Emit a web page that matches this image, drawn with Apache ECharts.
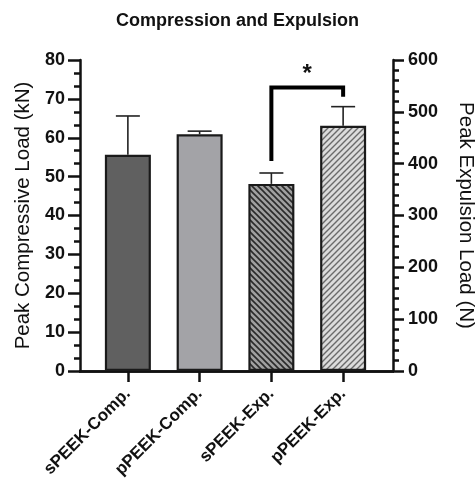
<!DOCTYPE html>
<html><head><meta charset="utf-8">
<script src="https://cdn.jsdelivr.net/npm/echarts@6/dist/echarts.min.js"></script>
<style>html,body{margin:0;padding:0;background:#fff}#c{width:475px;height:493px}</style>
</head><body><div id="c"></div>
<script>
// ---- data ----
const categories = ['sPEEK-Comp.', 'pPEEK-Comp.', 'sPEEK-Exp.', 'pPEEK-Exp.'];
const compressionMean = [55.6, 60.9, '-', '-'];      // kN (left axis)
const compressionErrTop = [65.6, 61.7, '-', '-'];
const expulsionMean = ['-', '-', 361, 473];          // N (right axis)
const expulsionErrTop = ['-', '-', 382, 510];
// significance bracket: [fromIndex, toIndex, leftEndValue, topValue, rightEndValue, starValue] (N)
const bracket = [[2, 3, 405, 547, 529, 572]];
const leftAxisRange = [0, 80, 10];
const rightAxisRange = [0, 600, 100];

// ---- patterns ----
function hatch(bg, fg, dir, s, w) {
  const c = document.createElement('canvas');
  c.width = s; c.height = s;
  const g = c.getContext('2d');
  g.fillStyle = bg; g.fillRect(0, 0, s, s);
  g.strokeStyle = fg; g.lineWidth = w;
  g.beginPath();
  if (dir === 'back') {
    g.moveTo(-2, -2); g.lineTo(s + 2, s + 2);
    g.moveTo(-2, s - 2); g.lineTo(2, s + 2);
    g.moveTo(s - 2, -2); g.lineTo(s + 2, 2);
  } else {
    g.moveTo(-2, s + 2); g.lineTo(s + 2, -2);
    g.moveTo(-2, 2); g.lineTo(2, -2);
    g.moveTo(s - 2, s + 2); g.lineTo(s + 2, s - 2);
  }
  g.stroke();
  return { image: c, repeat: 'repeat' };
}
const fills = ['#606060', '#a3a3a7', hatch('#a0a0a0', '#2a2a2a', 'back', 6, 1.6), hatch('#dcdcdc', '#6a6a6a', 'fwd', 6, 1.4)];

const FONT = 'Liberation Sans, Arial, sans-serif';
const axisLineStyle = { color: '#111', width: 2.5 };

function errSeries(meanArr, topArr, yIdx) {
  return {
    type: 'custom', xAxisIndex: 2, yAxisIndex: yIdx, z: 1,
    data: meanArr.map((m, i) => m === '-' ? null : [i, m, topArr[i]]).filter(d => d),
    renderItem: function (params, api) {
      const b = api.coord([api.value(0), api.value(1)]);
      const t = api.coord([api.value(0), api.value(2)]);
      const hw = 12;
      return {
        type: 'group', children: [
          { type: 'line', shape: { x1: b[0], y1: b[1], x2: t[0], y2: t[1] }, style: { stroke: '#222', lineWidth: 1.6 } },
          { type: 'line', shape: { x1: t[0] - hw, y1: t[1], x2: t[0] + hw, y2: t[1] }, style: { stroke: '#222', lineWidth: 1.6 } }
        ]
      };
    }
  };
}

const chart = echarts.init(document.getElementById('c'), null, { renderer: 'canvas' });
chart.setOption({
  animation: false,
  title: {
    text: 'Compression and Expulsion', left: 'center', top: 7,
    textStyle: { fontFamily: FONT, fontSize: 18, fontWeight: 'bold', color: '#111' }
  },
  grid: [
    { left: 80, right: 82, top: 60, bottom: 122, containLabel: false, outerBoundsMode: 'none' },
    { left: 92, right: 96, top: 60, bottom: 122, containLabel: false, outerBoundsMode: 'none' }
  ],
  xAxis: [
    { gridIndex: 0, type: 'category', data: categories, position: 'bottom',
      axisLine: { show: true, lineStyle: axisLineStyle }, axisTick: { show: false }, axisLabel: { show: false }, splitLine: { show: false } },
    { gridIndex: 0, type: 'category', data: categories, position: 'top',
      axisLine: { show: true, lineStyle: axisLineStyle }, axisTick: { show: false }, axisLabel: { show: false }, splitLine: { show: false } },
    { gridIndex: 1, type: 'category', data: categories, position: 'bottom',
      axisLine: { show: false }, splitLine: { show: false },
      axisTick: { show: true, alignWithLabel: true, length: 11, lineStyle: { color: '#111', width: 2.5 } },
      axisLabel: { rotate: 45, margin: 20, fontFamily: FONT, fontSize: 17, fontWeight: 'bold', color: '#111' } }
  ],
  yAxis: [
    { gridIndex: 0, type: 'value', position: 'left', min: leftAxisRange[0], max: leftAxisRange[1], interval: leftAxisRange[2],
      name: 'Peak Compressive Load (kN)', nameLocation: 'middle', nameGap: 42, nameRotate: 90,
      nameTextStyle: { fontFamily: FONT, fontSize: 20.5, color: '#111' },
      axisLine: { show: true, lineStyle: axisLineStyle },
      axisTick: { show: true, length: 12, lineStyle: { color: '#111', width: 2.5 } },
      minorTick: { show: true, splitNumber: 3, length: 6, lineStyle: { color: '#111', width: 2.5 } },
      axisLabel: { margin: 15, fontFamily: FONT, fontSize: 18, fontWeight: 'bold', color: '#111' },
      splitLine: { show: false } },
    { gridIndex: 0, type: 'value', position: 'right', min: rightAxisRange[0], max: rightAxisRange[1], interval: rightAxisRange[2],
      name: 'Peak Expulsion Load (N)', nameLocation: 'middle', nameGap: 62, nameRotate: -90,
      nameTextStyle: { fontFamily: FONT, fontSize: 20.5, color: '#111' },
      axisLine: { show: true, lineStyle: axisLineStyle },
      axisTick: { show: true, length: 11, lineStyle: { color: '#111', width: 2.5 } },
      minorTick: { show: true, splitNumber: 5, length: 6, lineStyle: { color: '#111', width: 2.5 } },
      axisLabel: { margin: 15, fontFamily: FONT, fontSize: 18, fontWeight: 'bold', color: '#111' },
      splitLine: { show: false } },
    { gridIndex: 1, type: 'value', min: leftAxisRange[0], max: leftAxisRange[1], show: false },
    { gridIndex: 1, type: 'value', min: rightAxisRange[0], max: rightAxisRange[1], show: false }
  ],
  series: [
    errSeries(compressionMean, compressionErrTop, 2),
    errSeries(expulsionMean, expulsionErrTop, 3),
    { type: 'bar', xAxisIndex: 2, yAxisIndex: 2, barWidth: 46, barGap: '-100%', z: 3,
      data: compressionMean.map((v, i) => ({ value: v, itemStyle: { color: fills[i] } })),
      itemStyle: { borderColor: '#1a1a1a', borderWidth: 2.2 } },
    { type: 'bar', xAxisIndex: 2, yAxisIndex: 3, barWidth: 46, barGap: '-100%', z: 3,
      data: expulsionMean.map((v, i) => ({ value: v, itemStyle: { color: fills[i] } })),
      itemStyle: { borderColor: '#1a1a1a', borderWidth: 2.2 } },
    { type: 'custom', xAxisIndex: 2, yAxisIndex: 3, z: 4, data: bracket,
      renderItem: function (params, api) {
        const l = api.coord([api.value(0), api.value(2)]);
        const tl = api.coord([api.value(0), api.value(3)]);
        const tr = api.coord([api.value(1), api.value(3)]);
        const r = api.coord([api.value(1), api.value(4)]);
        const s = api.coord([api.value(0), api.value(5)]);
        return {
          type: 'group', children: [
            { type: 'polyline', shape: { points: [l, tl, tr, r] }, style: { stroke: '#000', lineWidth: 4, fill: null, lineJoin: 'miter' } },
            { type: 'text', x: (tl[0] + tr[0]) / 2, y: s[1], style: { text: '*', fontFamily: FONT, fontSize: 24, fontWeight: 'bold', fill: '#111', align: 'center', verticalAlign: 'middle' } }
          ]
        };
      } }
  ]
});
</script></body></html>
